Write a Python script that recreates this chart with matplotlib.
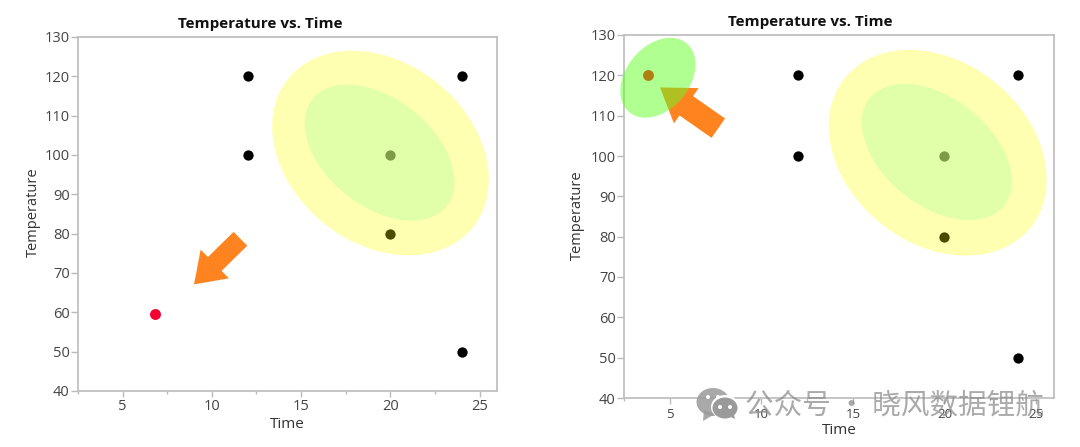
import numpy as np
import matplotlib
matplotlib.use('Agg')
import matplotlib.pyplot as plt
from matplotlib.patches import Ellipse, Polygon
from matplotlib.transforms import IdentityTransform

plt.rcParams['font.family'] = ['Open Sans', 'DejaVu Sans']

# design points, same on both plots
time_pts = [12, 12, 20, 20, 24, 24]
temp_pts = [120, 100, 100, 80, 120, 50]

# the extra run on each plot
left_extra = (6.8, 59.6)
right_extra = (3.8, 120)

x_ticks = [5, 10, 15, 20, 25]
x_minor = [2.5, 7.5, 12.5, 17.5, 22.5]
y_ticks = [40, 50, 60, 70, 80, 90, 100, 110, 120, 130]

# density contours: center x, center y, half width, half height, correlation
outer_left = (19.45, 100.5, 6.07, 26.0, -0.26)
inner_left = (19.4, 100.6, 4.2, 17.3, -0.43)
outer_right = (19.63, 100.8, 5.95, 25.5, -0.26)
inner_right = (19.58, 101.0, 4.1, 16.9, -0.43)
green_right = (4.35, 119.4, 2.05, 9.9, 0.33)

# arrows: tail then tip, in data units
left_arrow = ((11.6, 78.7), (9.0, 67.1))
right_arrow = ((7.65, 106.9), (4.47, 117))

W, H = 1080, 447
fig = plt.figure(figsize=(W / 100, H / 100), dpi=100)


def contour(ax, spec, color, alpha, z):
    cx, cy, a, b, rho = spec
    t = np.linspace(0, 2 * np.pi, 300)
    x = cx + a * np.cos(t)
    y = cy + b * (rho * np.cos(t) + np.sqrt(1 - rho ** 2) * np.sin(t))
    ax.fill(x, y, color=color, alpha=alpha, lw=0, zorder=z, clip_on=False)


def panel(box, extra, extra_color, tick_size, title_x, ylab_x, ylab_y, xlab_y, x_pad):
    l, t, r, b = box
    ax = fig.add_axes([l / W, 1 - b / H, (r - l) / W, (b - t) / H])
    ax.set_xlim(2.52, 25.98)
    ax.set_ylim(40, 130)
    ax.scatter(time_pts, temp_pts, s=55, color='black', lw=0, zorder=2)
    ax.scatter([extra[0]], [extra[1]], s=62, color=extra_color, lw=0, zorder=2)
    ax.set_xticks(x_ticks)
    ax.set_xticks(x_minor, minor=True)
    ax.set_yticks(y_ticks)
    ax.tick_params(axis='x', which='major', length=4, width=1, color='#bbbbbb',
                   labelcolor='#444444', labelsize=tick_size, pad=x_pad)
    ax.tick_params(axis='x', which='minor', length=2.5, width=1, color='#bbbbbb')
    ax.tick_params(axis='y', length=5, width=1, color='#bbbbbb',
                   labelcolor='#444444', labelsize=10.5, pad=1)
    for s in ax.spines.values():
        s.set_color('#c0c0c0')
        s.set_linewidth(1.3)
    fig.text((l + r) / 2 / W, 1 - xlab_y / H, 'Time', fontsize=11, color='#333333', ha='center', va='center')
    fig.text(ylab_x / W, 1 - ylab_y / H, 'Temperature', fontsize=10.5, color='#333333',
             rotation=90, ha='center', va='center')
    fig.text(title_x / W, 1 - (t - 13) / H, 'Temperature vs. Time', fontsize=11, fontweight='bold',
             color='#111111', ha='center', va='center')
    return ax


def arrow(ax, spec, body, head, head_len):
    ax.annotate('', xy=spec[1], xytext=spec[0], zorder=3,
                arrowprops=dict(width=body, headwidth=head, headlength=head_len, lw=0,
                                color='#ff8420', shrinkA=0, shrinkB=0))


ax1 = panel((78, 37, 497, 391), left_extra, '#f50032', 10.5, 260, 33, 212, 424, 1.5)
arrow(ax1, left_arrow, 14, 29, 21)
contour(ax1, outer_left, '#ffff00', 0.3, 4)
contour(ax1, inner_left, '#bdffa0', 0.45, 5)

ax2 = panel((624, 35, 1054, 398), right_extra, '#ff0000', 9.5, 810, 577, 215, 431, 3.5)
arrow(ax2, right_arrow, 17, 31, 23)
contour(ax2, outer_right, '#ffff00', 0.3, 4)
contour(ax2, inner_right, '#bdffa0', 0.45, 5)
contour(ax2, green_right, '#60ff24', 0.5, 5)

# watermark, placed in pixels
wm = '#9a9a9a'
fig.add_artist(Ellipse((713, H - 402), 33, 28, color=wm, alpha=0.85, lw=0, transform=IdentityTransform()))
fig.add_artist(Polygon([(704, H - 410), (703, H - 421), (715, H - 414)], color=wm, alpha=0.85, lw=0,
                       transform=IdentityTransform()))
fig.add_artist(Ellipse((725, H - 407), 28, 24, color='white', lw=0, transform=IdentityTransform()))
fig.add_artist(Ellipse((725, H - 408), 25, 21, color=wm, lw=0, transform=IdentityTransform()))
fig.add_artist(Polygon([(727, H - 415), (735, H - 419), (733, H - 411)], color=wm, lw=0,
                       transform=IdentityTransform()))
for px, py in [(708, 397), (718, 397), (720, 407), (730, 407)]:
    fig.add_artist(Ellipse((px, H - py), 4, 4, color='white', lw=0, transform=IdentityTransform()))
fig.text(745 / W, 1 - 405 / H, '公众号 · 晓风数据锂航', fontsize=20.6, color='#8a8a8a', alpha=0.72,
         family=['Noto Sans CJK SC', 'DejaVu Sans'], va='center', ha='left')

fig.savefig('out.png', dpi=100)
